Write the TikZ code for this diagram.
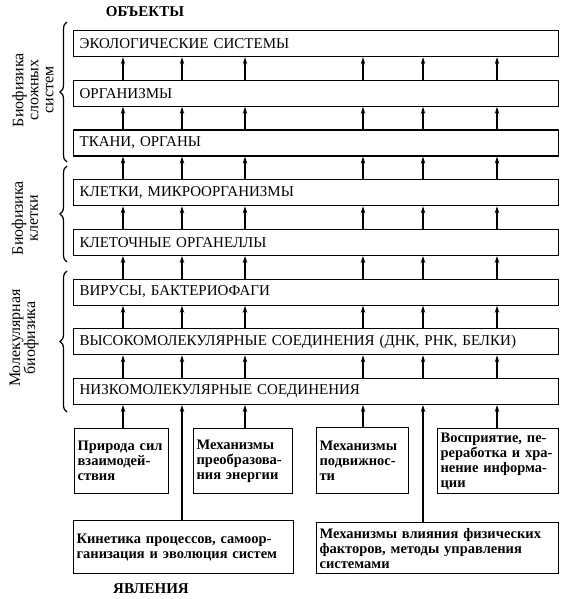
\documentclass[tikz,border=0pt]{standalone}
\usepackage{fontspec}
\setmainfont{Liberation Serif}
\usetikzlibrary{arrows.meta,decorations.pathreplacing}
\tikzset{
  level/.style={draw,line width=1.2pt,anchor=north west,minimum height=26pt,
    inner xsep=6pt,text width=473pt,align=left,font=\fontsize{15}{17}\selectfont},
  effect/.style={draw,line width=1.2pt,anchor=north west,inner sep=3pt,align=left,
    font=\bfseries\fontsize{14.5}{15}\selectfont},
  up/.style={-{Stealth[length=7pt,width=4.5pt]},line width=1.6pt},
  group/.style={decorate,decoration={brace,amplitude=7pt},line width=1.2pt},
  grouplabel/.style={rotate=90,align=center,font=\fontsize{16}{15}\selectfont},
  title/.style={font=\bfseries\fontsize{15}{17}\selectfont}
}
\begin{document}
\begin{tikzpicture}[x=1pt,y=-1pt]
  \useasboundingbox (0,0) rectangle (567,599);
  \def\dy{49.7}% step between levels
  % columns of arrows
  \foreach \x [count=\k] in {123,182,245,363,423,497}
    \coordinate (c\k) at (\x,0);
  % objects
  \foreach \t [count=\i] in {ЭКОЛОГИЧЕСКИЕ СИСТЕМЫ,ОРГАНИЗМЫ,{ТКАНИ, ОРГАНЫ},
      {КЛЕТКИ, МИКРООРГАНИЗМЫ},КЛЕТОЧНЫЕ ОРГАНЕЛЛЫ,{ВИРУСЫ, БАКТЕРИОФАГИ},
      {ВЫСОКОМОЛЕКУЛЯРНЫЕ СОЕДИНЕНИЯ (ДНК, РНК, БЕЛКИ)},НИЗКОМОЛЕКУЛЯРНЫЕ СОЕДИНЕНИЯ}
    \node[level] (l\i) at (73,{30+\dy*(\i-1)}) {\t};
  \foreach \i [evaluate=\i as \j using int(\i+1)] in {1,...,7}
    \foreach \k in {1,...,6}
      \draw[up] (l\j.north -| c\k) -- (l\i.south -| c\k);
  % phenomena
  \node[effect,minimum width=94pt,minimum height=65pt,text width=88pt] (p1) at (74,428)
    {Природа сил\\взаимодей-\\ствия};
  \node[effect,minimum width=99pt,minimum height=65pt,text width=93pt] (p2) at (193,428)
    {Механизмы\\преобразова-\\ния энергии};
  \node[effect,minimum width=92pt,minimum height=66pt,text width=86pt] (p3) at (316,427)
    {Механизмы\\подвижнос-\\ти};
  \node[effect,minimum width=121pt,minimum height=65pt,text width=115pt] (p4) at (437,428)
    {Восприятие, пе-\\реработка и хра-\\нение информа-\\ции};
  \node[effect,minimum width=220pt,minimum height=53pt,text width=214pt] (p5) at (73,520)
    {Кинетика процессов, самоор-\\ганизация и эволюция систем};
  \node[effect,minimum width=242pt,minimum height=51pt,text width=236pt] (p6) at (316,522)
    {Механизмы влияния физических\\факторов, методы управления\\системами};
  \foreach \p/\k in {p1/1,p5/2,p2/3,p3/4,p6/5,p4/6}
    \draw[up] (\p.north -| c\k) -- (l8.south -| c\k);
  % groups
  \draw[group] (67,162) -- (67,22);
  \draw[group] (67,262) -- (67,166);
  \draw[group] (67,412) -- (67,271);
  \node[grouplabel] (g1) at (33,90) {Биофизика\\сложных\\систем};
  \node[grouplabel] (g2) at (25,218) {Биофизика\\клетки};
  \node[grouplabel] (g3) at (24,338) {Молекулярная\\биофизика};
  \node[title] (obj) at (145,12) {ОБЪЕКТЫ};
  \node[title] (phen) at (151,589) {ЯВЛЕНИЯ};
\end{tikzpicture}
\end{document}
